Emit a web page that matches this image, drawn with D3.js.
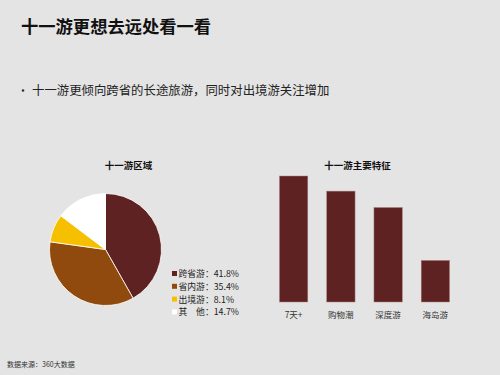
<!DOCTYPE html>
<html>
<head>
<meta charset="utf-8">
<script src="https://cdn.jsdelivr.net/npm/d3@7"></script>
<style>
  body { margin: 0; background: #e4e4e4; }
  svg { display: block; font-family: "Noto Sans CJK SC", "Noto Sans", sans-serif; }
</style>
</head>
<body>
<svg id="chart" width="500" height="375"></svg>
<script>
// pie data: region share (%)
const regionNames = ["跨省游", "省内游", "出境游", "其　他"];
const regionValues = [41.8, 35.4, 8.1, 14.7];
const regionColors = ["#5e2223", "#914a0d", "#f6c000", "#ffffff"];

// bar data: relative heat of main features
const featureNames = ["7天+", "购物潮", "深度游", "海岛游"];
const featureValues = [100, 88, 75, 33];

const svg = d3.select("#chart");

svg.append("rect").attr("width", 500).attr("height", 375).attr("fill", "#e4e4e4");

// headline + bullet
svg.append("text").attr("x", 21).attr("y", 33)
    .attr("font-size", 17.3).attr("font-weight", "bold").attr("fill", "#111")
    .text("十一游更想去远处看一看");
svg.append("circle").attr("cx", 23).attr("cy", 90.5).attr("r", 1.3).attr("fill", "#333");
svg.append("text").attr("x", 32).attr("y", 94.5)
    .attr("font-size", 12.4).attr("fill", "#222")
    .text("十一游更倾向跨省的长途旅游，同时对出境游关注增加");

// ---- pie ----
const pieG = svg.append("g").attr("transform", "translate(105.5,249.5)");
const pie = d3.pie().sort(null).value(d => d);
const arc = d3.arc().innerRadius(0).outerRadius(56);
pieG.selectAll("path")
    .data(pie(regionValues))
    .enter().append("path")
    .attr("d", arc)
    .attr("fill", (d, i) => regionColors[i])
    .attr("stroke", "#ffffff")
    .attr("stroke-width", 0.8);

svg.append("text").attr("x", 128.5).attr("y", 168.5)
    .attr("text-anchor", "middle").attr("font-size", 9.5).attr("font-weight", "bold")
    .attr("fill", "#111").text("十一游区域");

const legend = svg.append("g").attr("transform", "translate(172,274)");
const rowH = 12.8;
regionNames.forEach(function(name, i) {
    let row = legend.append("g").attr("transform", "translate(0," + (i * rowH) + ")");
    row.append("rect").attr("x", 0).attr("y", -3).attr("width", 5).attr("height", 5)
        .attr("fill", regionColors[i]);
    row.append("text").attr("x", 6.5).attr("y", 3)
        .attr("font-size", 8.8).attr("fill", "#222")
        .text(name + "：" + regionValues[i] + "%");
});

// ---- bars ----
const x = d3.scaleBand().domain(featureNames).range([270, 459]).paddingInner(0.4).paddingOuter(0.2);
const y = d3.scaleLinear().domain([0, 100]).range([302, 176]);

svg.selectAll("rect.bar")
    .data(featureValues)
    .enter().append("rect")
    .attr("class", "bar")
    .attr("x", (d, i) => x(featureNames[i]))
    .attr("y", d => y(d))
    .attr("width", x.bandwidth())
    .attr("height", d => y(0) - y(d))
    .attr("fill", "#5e2223")
    .attr("stroke", "#b08080")
    .attr("stroke-width", 0.5);

svg.selectAll("text.cat")
    .data(featureNames)
    .enter().append("text")
    .attr("class", "cat")
    .attr("x", d => x(d) + x.bandwidth() / 2)
    .attr("y", 318)
    .attr("text-anchor", "middle").attr("font-size", 8.5).attr("fill", "#333")
    .text(d => d);

svg.append("text").attr("x", 357.5).attr("y", 168.5)
    .attr("text-anchor", "middle").attr("font-size", 9.5).attr("font-weight", "bold")
    .attr("fill", "#111").text("十一游主要特征");

// source note
svg.append("text").attr("x", 7).attr("y", 366.5)
    .attr("font-size", 7).attr("fill", "#333").text("数据来源：360大数据");
</script>
</body>
</html>
